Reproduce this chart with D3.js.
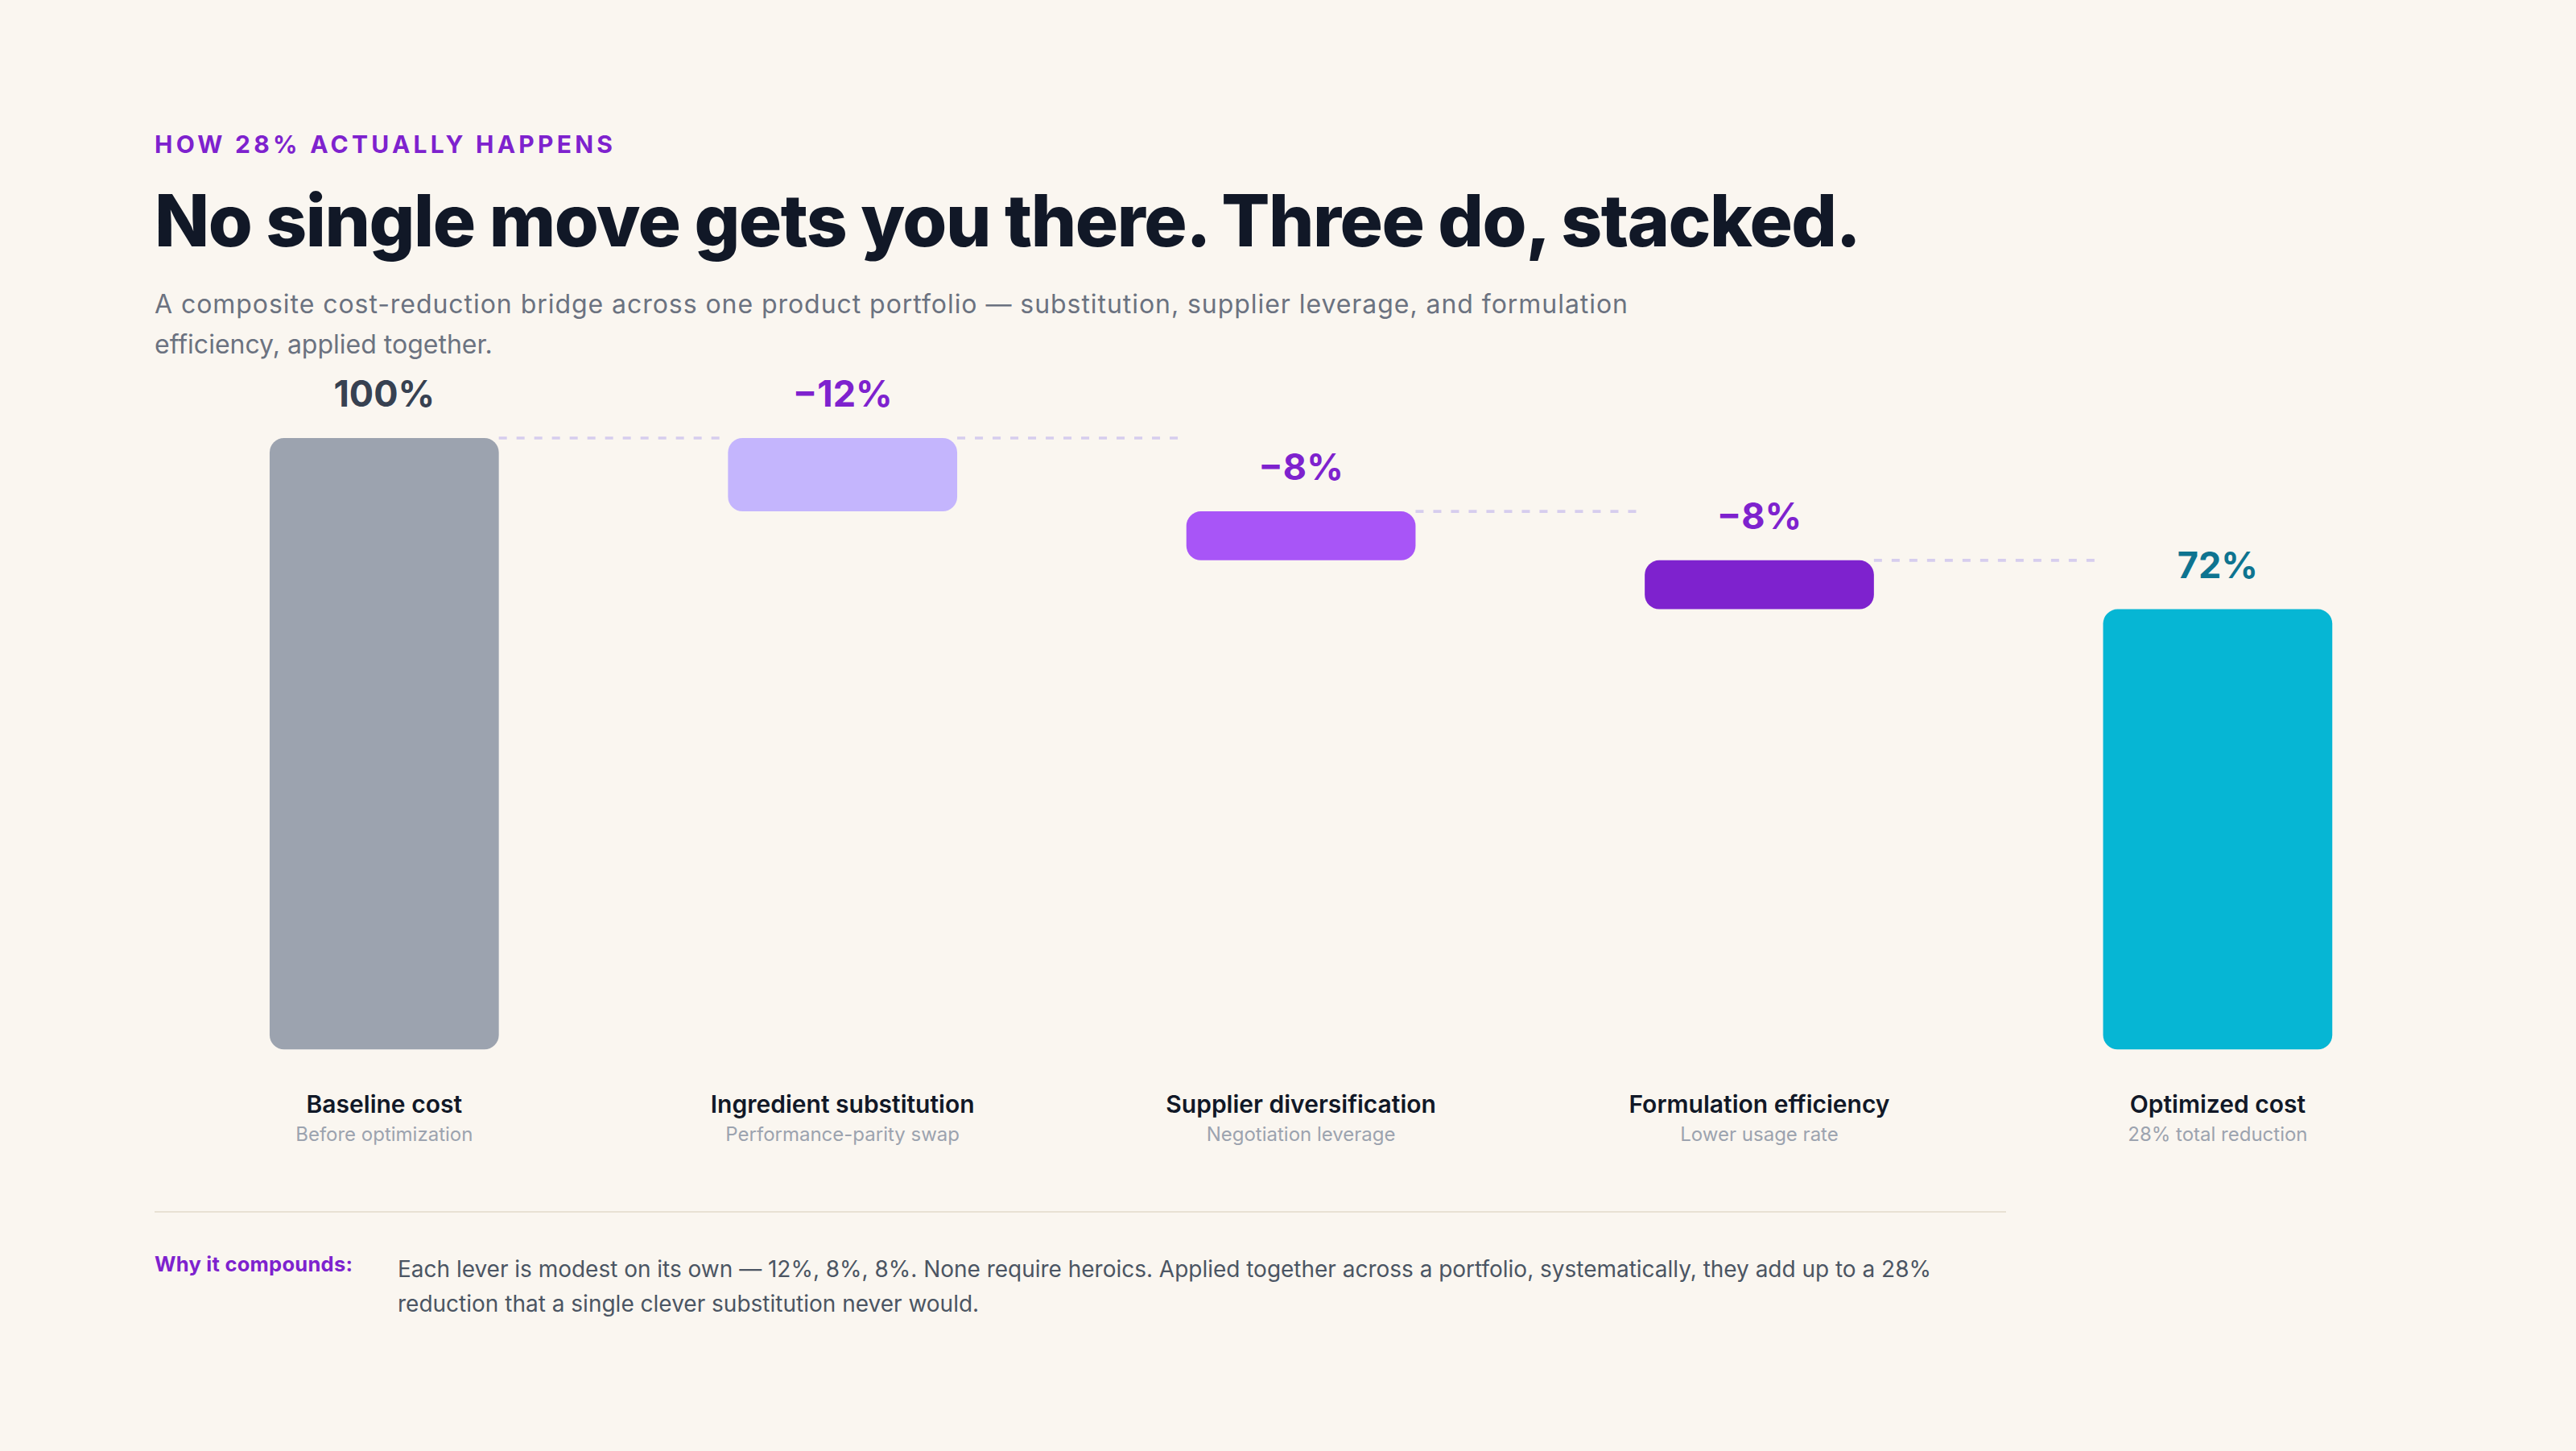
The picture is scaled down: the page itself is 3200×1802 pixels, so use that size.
<!DOCTYPE html>
<html>
<head>
<meta charset="utf-8">
<script src="https://cdn.jsdelivr.net/npm/d3@7"></script>
<style>
  html, body { margin: 0; padding: 0; background: #faf6f0; }
  svg { display: block; }
  text { font-family: Inter, "Noto Sans", "DejaVu Sans", sans-serif; }
</style>
</head>
<body>
<svg id="chart"></svg>
<script>
// ---------- data ----------
const categories = ["Baseline cost", "Ingredient substitution", "Supplier diversification", "Formulation efficiency", "Optimized cost"];
const subLabels = ["Before optimization", "Performance-parity swap", "Negotiation leverage", "Lower usage rate", "28% total reduction"];
const changes = [100, -12, -8, -8, 72];
const barKinds = ["total", "delta", "delta", "delta", "total"];
const valueLabels = ["100%", "\u221212%", "\u22128%", "\u22128%", "72%"];
const yDomain = [0, 100];

const eyebrowText = "HOW 28% ACTUALLY HAPPENS";
const titleText = "No single move gets you there. Three do, stacked.";
const subtitleLines = [
  "A composite cost-reduction bridge across one product portfolio \u2014 substitution, supplier leverage, and formulation",
  "efficiency, applied together."
];
const noteLabel = "Why it compounds:";
const noteLines = [
  "Each lever is modest on its own \u2014 12%, 8%, 8%. None require heroics. Applied together across a portfolio, systematically, they add up to a 28%",
  "reduction that a single clever substitution never would."
];

// ---------- styles ----------
const barColors = ["#9ca3af", "#c4b5fd", "#a855f7", "#7e22ce", "#06b6d4"];
const labelColors = ["#374151", "#7e22ce", "#7e22ce", "#7e22ce", "#0e7490"];

const W = 3200, H = 1802;
const svg = d3.select("#chart").attr("width", W).attr("height", H).attr("viewBox", `0 0 ${W} ${H}`);
svg.append("rect").attr("width", W).attr("height", H).attr("fill", "#faf6f0");

function fit(sel, target) {
  sel.attr("letter-spacing", 0);
  const w = sel.node().getComputedTextLength();
  const n = sel.text().length;
  sel.attr("letter-spacing", ((target - w) / Math.max(1, n - 1)).toFixed(3));
}

function draw() {
  const left = 192;

  // header
  const eyebrow = svg.append("text").attr("x", left).attr("y", 190)
    .attr("font-size", 30).attr("font-weight", 700).attr("fill", "#7e22ce")
    .text(eyebrowText);
  fit(eyebrow, 569);

  const title = svg.append("text").attr("x", left).attr("y", 306)
    .attr("font-size", 89).attr("font-weight", 800).attr("fill", "#111827")
    .text(titleText);
  fit(title, 2120);

  subtitleLines.forEach((t, i) => {
    const s = svg.append("text").attr("x", left).attr("y", 389 + i * 50)
      .attr("font-size", 32).attr("font-weight", 400).attr("fill", "#6b7280")
      .text(t);
    if (i === 0) fit(s, 1830);
  });

  // waterfall geometry
  let run = 0;
  const rows = categories.map((c, i) => {
    let start, end;
    if (barKinds[i] === "total") { start = 0; end = changes[i]; run = end; }
    else { start = run; end = run + changes[i]; run = end; }
    return { cat: c, sub: subLabels[i], start, end, label: valueLabels[i], i };
  });

  const x = d3.scaleBand().domain(categories).range([192.6, 3039.6]).paddingInner(0.5).paddingOuter(0.25);
  const y = d3.scaleLinear().domain(yDomain).range([1303.3, 544]);
  const bw = x.bandwidth();
  const top = d => Math.max(d.start, d.end);

  const g = svg.append("g");

  // connectors: run at the top level of each bar toward the next bar
  g.selectAll("line.conn").data(rows.slice(0, -1)).join("line")
    .attr("class", "conn")
    .attr("x1", d => x(d.cat) + bw)
    .attr("x2", d => x(categories[d.i + 1]) - 10)
    .attr("y1", d => y(top(d)))
    .attr("y2", d => y(top(d)))
    .attr("stroke", "#d6cdee")
    .attr("stroke-width", 3.6)
    .attr("stroke-dasharray", "10 12");

  // bars
  g.selectAll("rect.bar").data(rows).join("rect")
    .attr("class", "bar")
    .attr("x", d => x(d.cat))
    .attr("width", bw)
    .attr("y", d => y(top(d)))
    .attr("height", d => Math.abs(y(d.start) - y(d.end)))
    .attr("rx", 18).attr("ry", 18)
    .attr("fill", (d, i) => barColors[i]);

  // value labels
  g.selectAll("text.val").data(rows).join("text")
    .attr("class", "val")
    .attr("x", d => x(d.cat) + bw / 2)
    .attr("y", d => y(top(d)) - 39)
    .attr("text-anchor", "middle")
    .attr("font-size", 45).attr("font-weight", 700)
    .attr("fill", (d, i) => labelColors[i])
    .text(d => d.label);

  // category labels
  g.selectAll("text.cat").data(rows).join("text")
    .attr("class", "cat")
    .attr("x", d => x(d.cat) + bw / 2)
    .attr("y", 1381.5)
    .attr("text-anchor", "middle")
    .attr("font-size", 30).attr("font-weight", 600)
    .attr("fill", "#111827")
    .text(d => d.cat);

  g.selectAll("text.sub").data(rows).join("text")
    .attr("class", "sub")
    .attr("x", d => x(d.cat) + bw / 2)
    .attr("y", 1417)
    .attr("text-anchor", "middle")
    .attr("font-size", 24).attr("font-weight", 400)
    .attr("fill", "#9ca3af")
    .text(d => d.sub);

  // divider
  svg.append("line").attr("x1", 192).attr("x2", 2492).attr("y1", 1505).attr("y2", 1505)
    .attr("stroke", "#e8e1d4").attr("stroke-width", 2);

  // note
  const nl = svg.append("text").attr("x", left).attr("y", 1579)
    .attr("font-size", 25.5).attr("font-weight", 700).attr("fill", "#7e22ce")
    .text(noteLabel);
  fit(nl, 246);

  noteLines.forEach((t, i) => {
    const s = svg.append("text").attr("x", 494).attr("y", 1586 + i * 43)
      .attr("font-size", 28).attr("font-weight", 400).attr("fill", "#4b5563")
      .text(t);
    if (i === 0) fit(s, 1905);
  });
}

if (document.fonts && document.fonts.ready) document.fonts.ready.then(draw); else draw();
</script>
</body>
</html>
